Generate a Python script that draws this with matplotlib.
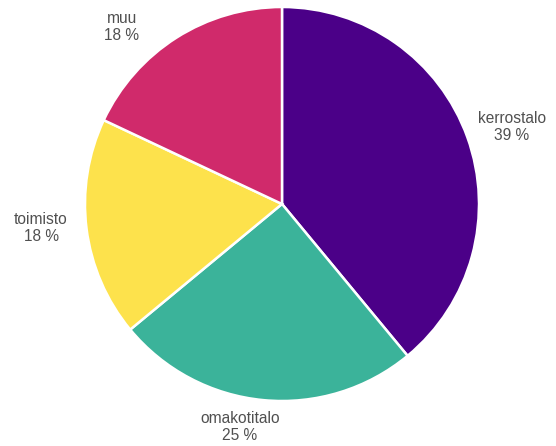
import matplotlib
matplotlib.use("Agg")
import matplotlib.pyplot as plt

categories = ["kerrostalo", "omakotitalo", "toimisto", "muu"]
shares = [39, 25, 18, 18]
colors = ["#4b0088", "#3bb39a", "#fde24c", "#d02a6b"]

# label anchor points in figure pixels (x, y from top)
label_pos = [(512, 127), (240, 427), (41, 228), (122, 27)]

W, H = 556, 446
fig = plt.figure(figsize=(W / 100, H / 100), dpi=100)
ax = fig.add_axes([0, 0, 1, 1])

cx, cy, r = 282, H - 204, 197
wedges, _ = ax.pie(
    shares,
    colors=colors,
    startangle=90,
    counterclock=False,
    center=(cx, cy),
    radius=r,
    frame=True,
    wedgeprops=dict(edgecolor="white", linewidth=1.8),
)
ax.set_xlim(0, W)
ax.set_ylim(0, H)
ax.set_aspect("equal")
ax.axis("off")

for name, val, (x, y) in zip(categories, shares, label_pos):
    ax.text(x, H - y, f"{name}\n{val} %", ha="center", va="center",
            fontsize=11.2, color="#505050", family="Liberation Sans",
            linespacing=1.15)

fig.savefig("out.png", dpi=100)
